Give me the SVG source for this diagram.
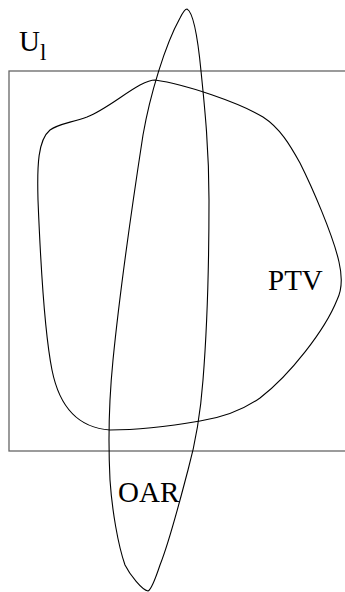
<svg xmlns="http://www.w3.org/2000/svg" width="345" height="592" viewBox="0 0 345 592">
<style>
.curve{fill:none;stroke:#000;stroke-width:1.1}
.box{fill:none;stroke:#666;stroke-width:1.3}
.lbl{font-family:"Liberation Serif","Times New Roman",serif;font-size:29px;fill:#000}
</style>
<rect width="345" height="592" fill="#fff"/>
<g id="U1">
<rect class="box" x="9" y="71" width="345" height="380"/>
<text class="lbl" x="19" y="51" font-size="28">U<tspan font-size="23" dy="9">l</tspan></text>
</g>
<g id="PTV">
<path class="curve" d="M155,80 C185,84 240,103 263,117 C280,128 290,145 300,163 C312,187 333,235 339,262 C342,275 342,290 337,300 C325,330 290,375 260,398 C240,412 220,418 200,421 C165,427 130,430 110,430 C80,428 60,410 52,370 C44,330 40,250 38,200 C37,165 38,140 50,130 C58,124 70,123 87,117 C105,110 125,93 140,85 C146,82 150,80 155,80 Z"/>
<text class="lbl" x="268" y="290">PTV</text>
</g>
<g id="OAR">
<path class="curve" d="M187,9 C193,12 198,40 201,71 C205,110 209,150 209,200 C209,260 207,330 203,380 C200,420 195,445 188,470 C180,500 170,540 160,565 C155,580 151,590 148,591 C142,590 130,575 125,565 C118,545 112,510 110,480 C108,440 109,400 113,360 C120,290 133,200 143,135 C150,95 165,45 180,18 C183,12 185,9 187,9 Z"/>
<text class="lbl" x="118" y="502">OAR</text>
</g>
<g id="connectors"/>
</svg>
